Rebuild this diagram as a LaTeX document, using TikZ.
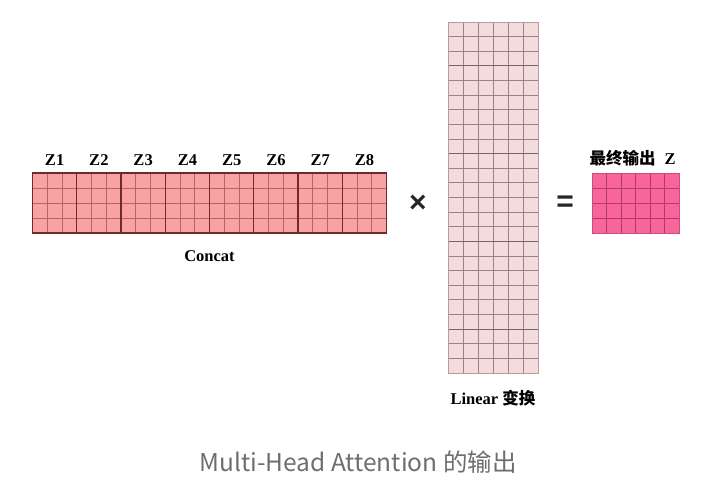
\documentclass[tikz,border=0pt]{standalone}
\usepackage{fontspec}
\setmainfont{Liberation Serif}
\newfontfamily\cjk{Noto Sans CJK SC}
\newfontfamily\opfont{Liberation Sans}
\usetikzlibrary{calc}
\definecolor{cfill}{HTML}{F9A2A3}
\definecolor{cline}{HTML}{B46468}
\definecolor{cborder}{HTML}{6E2A2C}
\definecolor{lfill}{HTML}{F3DCDC}
\definecolor{lline}{HTML}{A08087}
\definecolor{ldark}{HTML}{7E6067}
\definecolor{ofill}{HTML}{F8659A}
\definecolor{oline}{HTML}{B23A66}
\definecolor{capgray}{HTML}{6E6E6E}
\tikzset{
  lbl/.style={font=\fontsize{16.5}{16.5}\selectfont\bfseries, inner sep=0pt},
  op/.style={font=\opfont\bfseries\fontsize{30}{30}\selectfont, inner sep=0pt, text=black!85},
  mat/.style={rectangle, inner sep=0pt, outer sep=0pt},
}
\begin{document}
\begin{tikzpicture}[x=1pt,y=-1pt]
\useasboundingbox (0,0) rectangle (727,486);
% Concat matrix
\node[mat, fill=cfill, minimum width=354pt, minimum height=60pt] (concat) at (209.5,203) {};
\foreach \i in {1,...,23}{
  \draw[cline, line width=0.6pt] ($(concat.north west)!\i/24!(concat.north east)$) -- ($(concat.south west)!\i/24!(concat.south east)$);
}
\foreach \j in {1,2,3}{
  \draw[cline, line width=0.6pt] ($(concat.north west)!\j/4!(concat.south west)$) -- ($(concat.north east)!\j/4!(concat.south east)$);
}
\foreach \k in {1,...,7}{
  \draw[cborder, line width=1.3pt] ($(concat.north west)!\k/8!(concat.north east)$) -- ($(concat.south west)!\k/8!(concat.south east)$);
}
\draw[cborder, line width=1.3pt] (concat.north west) rectangle (concat.south east);
\foreach \k in {1,...,8}{
  \node[lbl] (z\k) at ($(concat.north west)!{(\k-0.5)/8}!(concat.north east) + (0,-13)$) {Z\k};
}
\node[lbl] (concatlbl) at ($(concat.south)+(0,23)$) {Concat};
% Linear matrix
\node[mat, fill=lfill, minimum width=90pt, minimum height=351pt] (lin) at (493,197.5) {};
\foreach \i in {1,...,5}{
  \draw[lline, line width=0.8pt] ($(lin.north west)!\i/6!(lin.north east)$) -- ($(lin.south west)!\i/6!(lin.south east)$);
}
\foreach \j in {1,...,23}{
  \draw[lline, line width=0.8pt] ($(lin.north west)!\j/24!(lin.south west)$) -- ($(lin.north east)!\j/24!(lin.south east)$);
}
\foreach \j in {3,9,15,21}{
  \draw[ldark, line width=1pt] ($(lin.north west)!\j/24!(lin.south west)$) -- ($(lin.north east)!\j/24!(lin.south east)$);
}
\draw[lline!70!lfill, line width=0.6pt] (lin.north west) rectangle (lin.south east);
\node[lbl] (linlbl) at ($(lin.south)+(0,25)$) {Linear {\cjk\bfseries 变换}};
% Output matrix
\node[mat, fill=ofill, minimum width=87pt, minimum height=60pt] (out) at (635.5,203) {};
\foreach \i in {1,...,5}{
  \draw[oline, line width=0.8pt] ($(out.north west)!\i/6!(out.north east)$) -- ($(out.south west)!\i/6!(out.south east)$);
}
\foreach \j in {1,2,3}{
  \draw[oline, line width=0.8pt] ($(out.north west)!\j/4!(out.south west)$) -- ($(out.north east)!\j/4!(out.south east)$);
}
\draw[oline!60!ofill, line width=0.6pt] (out.north west) rectangle (out.south east);
\node[lbl] (outlbl) at ($(out.north)+(-3,-15)$) {{\cjk\bfseries 最终输出}\hspace{9pt}Z};
% operators
\node[op] (times) at (418,204) {×};
\node[op] (eq) at (565,204) {=};
% caption
\node[inner sep=0pt, text=capgray, font=\cjk\fontsize{24.5}{24.5}\selectfont] (cap) at (358,462) {Multi-Head Attention 的输出};
\end{tikzpicture}
\end{document}
